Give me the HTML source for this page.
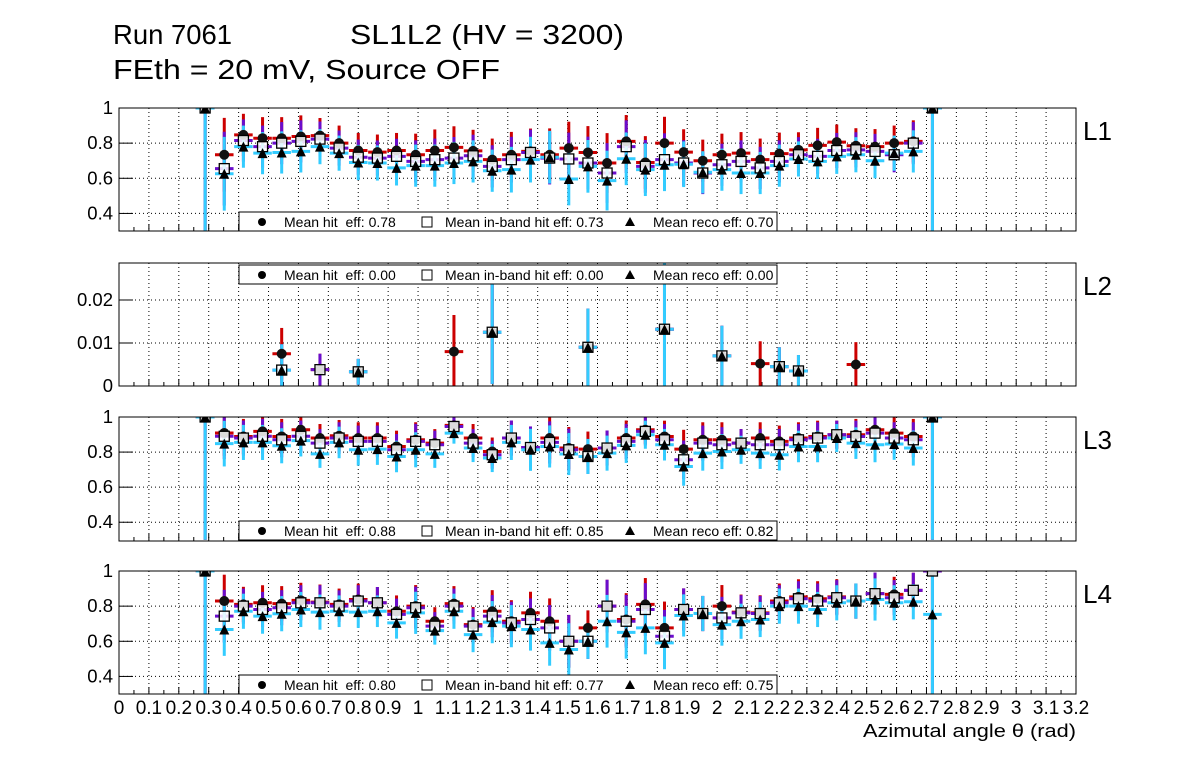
<!DOCTYPE html>
<html><head><meta charset="utf-8"><style>
body{margin:0;background:#fff;}
svg{display:block;font-family:"Liberation Sans",sans-serif;}
</style></head><body>
<svg id="c" width="1196" height="772">
<text x="113" y="44" font-size="28" textLength="119" lengthAdjust="spacingAndGlyphs">Run 7061</text>
<text x="350" y="44" font-size="28" textLength="274" lengthAdjust="spacingAndGlyphs">SL1L2 (HV = 3200)</text>
<text x="113" y="79" font-size="28" textLength="387" lengthAdjust="spacingAndGlyphs">FEth = 20 mV, Source OFF</text>
<text x="863" y="737" font-size="18" textLength="213" lengthAdjust="spacingAndGlyphs">Azimutal angle θ (rad)</text>
</svg>
<script>
const xs=[0.288,0.352,0.416,0.480,0.544,0.608,0.672,0.736,0.800,0.864,0.928,0.992,1.056,1.120,1.184,1.248,1.312,1.376,1.440,1.504,1.568,1.632,1.696,1.760,1.824,1.888,1.952,2.016,2.080,2.144,2.208,2.272,2.336,2.400,2.464,2.528,2.592,2.656,2.720];
const xTicks=[0,0.1,0.2,0.3,0.4,0.5,0.6,0.7,0.8,0.9,1,1.1,1.2,1.3,1.4,1.5,1.6,1.7,1.8,1.9,2,2.1,2.2,2.3,2.4,2.5,2.6,2.7,2.8,2.9,3,3.1,3.2];
const xTickLabels=["0","0.1","0.2","0.3","0.4","0.5","0.6","0.7","0.8","0.9","1","1.1","1.2","1.3","1.4","1.5","1.6","1.7","1.8","1.9","2","2.1","2.2","2.3","2.4","2.5","2.6","2.7","2.8","2.9","3","3.1","3.2"];
const layerNames=["L1","L2","L3","L4"];
const yTicksEff=[0.4,0.6,0.8,1];
const yTickLabelsEff=["0.4","0.6","0.8","1"];
const yTicksL2=[0,0.01,0.02];
const yTickLabelsL2=["0","0.01","0.02"];
const legendHit=["0.78","0.00","0.88","0.80"];
const legendIn=["0.73","0.00","0.85","0.77"];
const legendReco=["0.70","0.00","0.82","0.75"];
const hitL1=[1,0.734,0.847,0.828,0.828,0.838,0.843,0.80,0.758,0.749,0.758,0.734,0.758,0.776,0.756,0.706,0.734,0.753,0.734,0.772,0.747,0.687,0.81,0.69,0.80,0.749,0.70,0.734,0.743,0.706,0.74,0.762,0.787,0.806,0.785,0.78,0.80,0.81,1];
const inL1=[1,0.655,0.815,0.78,0.80,0.81,0.823,0.772,0.72,0.715,0.725,0.696,0.706,0.715,0.728,0.668,0.706,0.747,0.715,0.71,0.687,0.63,0.78,0.668,0.706,0.687,0.63,0.677,0.696,0.659,0.696,0.734,0.725,0.758,0.762,0.753,0.734,0.80,1];
const recoL1=[1,0.626,0.78,0.743,0.747,0.753,0.78,0.743,0.69,0.687,0.659,0.672,0.672,0.687,0.696,0.643,0.649,0.706,0.72,0.596,0.668,0.587,0.711,0.649,0.677,0.68,0.634,0.649,0.63,0.63,0.672,0.71,0.696,0.725,0.734,0.70,0.743,0.753,1];
const errL1=[0.7,0.21,0.12,0.12,0.12,0.12,0.1,0.1,0.1,0.1,0.1,0.12,0.12,0.12,0.12,0.12,0.13,0.13,0.15,0.15,0.15,0.17,0.15,0.15,0.15,0.13,0.12,0.12,0.12,0.12,0.12,0.1,0.1,0.1,0.1,0.1,0.1,0.12,0.7];
const hitL2=[null,null,null,null,0.0075,null,0.0038,null,0.0033,null,null,null,null,0.008,null,0.0125,null,null,null,null,0.009,null,null,null,0.0132,null,null,0.007,null,0.0052,0.0045,0.0035,null,null,0.005,null,null,null,null];
const inL2=[null,null,null,null,0.0037,null,0.0038,null,0.0033,null,null,null,null,null,null,0.0125,null,null,null,null,0.009,null,null,null,0.0132,null,null,0.007,null,null,0.0045,0.0035,null,null,null,null,null,null,null];
const recoL2=[null,null,null,null,0.0037,null,null,null,0.0033,null,null,null,null,null,null,0.0125,null,null,null,null,0.009,null,null,null,0.0132,null,null,0.007,null,null,0.0045,0.0035,null,null,null,null,null,null,null];
const errL2=[0,0,0,0,0.006,0,0.0037,0,0.003,0,0,0,0,0.0085,0,0.012,0,0,0,0,0.009,0,0,0,0.02,0,0,0.007,0,0.0052,0.0045,0.0037,0,0,0.0052,0,0,0,0];
const hitL3=[1,0.909,0.889,0.918,0.889,0.927,0.88,0.893,0.88,0.88,0.832,0.87,0.851,0.952,0.88,0.803,0.88,0.826,0.88,0.823,0.817,0.823,0.88,0.927,0.889,0.817,0.87,0.87,0.851,0.88,0.861,0.88,0.889,0.899,0.899,0.927,0.908,0.889,1];
const inL3=[1,0.89,0.88,0.89,0.87,0.89,0.851,0.88,0.861,0.861,0.813,0.861,0.842,0.946,0.851,0.785,0.88,0.826,0.855,0.813,0.775,0.823,0.861,0.918,0.87,0.756,0.851,0.842,0.851,0.842,0.842,0.87,0.88,0.899,0.889,0.908,0.88,0.87,1];
const recoL3=[1,0.848,0.855,0.855,0.836,0.865,0.79,0.855,0.813,0.817,0.775,0.813,0.79,0.908,0.823,0.766,0.855,0.813,0.832,0.789,0.775,0.794,0.838,0.899,0.842,0.718,0.794,0.803,0.813,0.794,0.785,0.832,0.832,0.88,0.851,0.842,0.846,0.823,1];
const errL3=[0.7,0.13,0.1,0.1,0.1,0.09,0.08,0.09,0.09,0.09,0.09,0.1,0.08,0.06,0.08,0.08,0.1,0.12,0.12,0.12,0.1,0.1,0.1,0.08,0.09,0.11,0.1,0.1,0.08,0.09,0.09,0.09,0.09,0.08,0.09,0.1,0.09,0.1,0.7];
const hitL4=[1,0.829,0.81,0.819,0.814,0.833,0.823,0.81,0.838,0.819,0.771,0.80,0.714,0.814,0.695,0.771,0.714,0.762,0.714,0.60,0.676,0.80,0.724,0.81,0.676,0.781,0.758,0.80,0.766,0.762,0.829,0.853,0.842,0.853,0.829,0.871,0.867,0.89,1];
const inL4=[1,0.743,0.80,0.781,0.791,0.819,0.819,0.80,0.829,0.819,0.753,0.791,0.686,0.80,0.686,0.743,0.705,0.724,0.676,0.60,0.60,0.80,0.714,0.781,0.629,0.781,0.758,0.733,0.762,0.758,0.819,0.842,0.829,0.848,0.829,0.871,0.848,0.89,1];
const recoL4=[1,0.667,0.771,0.743,0.757,0.781,0.766,0.771,0.766,0.771,0.705,0.762,0.661,0.771,0.638,0.709,0.686,0.667,0.591,0.553,0.60,0.714,0.651,0.676,0.591,0.747,0.758,0.695,0.714,0.724,0.80,0.80,0.781,0.819,0.829,0.838,0.819,0.825,0.753];
const errL4=[0.7,0.15,0.1,0.1,0.1,0.1,0.1,0.09,0.09,0.09,0.09,0.12,0.08,0.1,0.1,0.12,0.12,0.12,0.13,0.15,0.1,0.15,0.15,0.15,0.15,0.12,0.1,0.12,0.1,0.1,0.1,0.1,0.1,0.1,0.1,0.12,0.1,0.1,0.7];

const NS="http://www.w3.org/2000/svg";
const svg=document.getElementById('c');
const X0=119,X1=1076,XMIN=0,XMAX=3.2;
function xPix(v){return X0+(v-XMIN)/(XMAX-XMIN)*(X1-X0);}
function mk(tag,attrs,parent){const e=document.createElementNS(NS,tag);for(const k in attrs)e.setAttribute(k,attrs[k]);(parent||svg).appendChild(e);return e;}

const panels=[
 {top:108,bot:231,ymin:0.3,ymax:1,hit:hitL1,inb:inL1,reco:recoL1,err:errL1,yt:yTicksEff,yl:yTickLabelsEff,legY:212},
 {top:263,bot:386,ymin:0,ymax:0.0286,hit:hitL2,inb:inL2,reco:recoL2,err:errL2,yt:yTicksL2,yl:yTickLabelsL2,legY:265},
 {top:417,bot:541,ymin:0.293,ymax:1,hit:hitL3,inb:inL3,reco:recoL3,err:errL3,yt:yTicksEff,yl:yTickLabelsEff,legY:521},
 {top:571,bot:694,ymin:0.3,ymax:1,hit:hitL4,inb:inL4,reco:recoL4,err:errL4,yt:yTicksEff,yl:yTickLabelsEff,legY:675}
];
const halfW=0.031;
panels.forEach((p,pi)=>{
  const g=mk('g',{});
  
  
  const clipId='clip'+pi;
  const cp=mk('clipPath',{id:clipId},g);
  mk('rect',{x:X0,y:p.top,width:X1-X0,height:p.bot-p.top},cp);
  function yPix(v){return p.bot-(v-p.ymin)/(p.ymax-p.ymin)*(p.bot-p.top);}
  xTicks.forEach((t,i)=>{
    if(t>XMIN&&t<XMAX){
      const l=mk('line',{x1:xPix(t),x2:xPix(t),y1:p.top,y2:p.bot,stroke:'#000','stroke-width':1,'stroke-dasharray':'1,3'},g);
      
      
    }
    const tk=mk('line',{x1:xPix(t),x2:xPix(t),y1:p.bot,y2:p.bot-7,stroke:'#000','stroke-width':1},g);
    
    
    if(t<XMAX){
      const tk2=mk('line',{x1:xPix(t+0.05),x2:xPix(t+0.05),y1:p.bot,y2:p.bot-4,stroke:'#000','stroke-width':1},g);
      
      
    }
  });
  p.yt.forEach((t,i)=>{
    const y=yPix(t);
    if(y>p.top+1){
      const l=mk('line',{x1:X0,x2:X1,y1:y,y2:y,stroke:'#000','stroke-width':1,'stroke-dasharray':'1,3'},g);
      
      
    }
    const tk=mk('line',{x1:X0,x2:X0+14,y1:y,y2:y,stroke:'#000','stroke-width':1},g);
    
    
    const tx=mk('text',{x:113,y:y+6,'font-size':18.5,'text-anchor':'end'},g);
    tx.textContent=p.yl[i];
    
    
  });
  const data=mk('g',{'clip-path':'url(#'+clipId+')'},g);
  const series=[[p.hit,'#cc0000'],[p.inb,'#6a0dcc'],[p.reco,'#33ccff']];
  series.forEach(([vals,col],si)=>{
    vals.forEach((v,i)=>{
      if(v===null)return;
      const x=xPix(xs[i]),y=yPix(v);
      const e=p.err[i];
      const vb=mk('line',{x1:x,x2:x,y1:yPix(v+e),y2:yPix(v-e),stroke:col,'stroke-width':3},data);
      
      
      const hb=mk('line',{x1:xPix(xs[i]-halfW),x2:xPix(xs[i]+halfW),y1:y,y2:y,stroke:col,'stroke-width':3},data);
      
      
    });
  });
  series.forEach(([vals],si)=>{
    vals.forEach((v,i)=>{
      if(v===null)return;
      const x=xPix(xs[i]),y=yPix(v);
      let m;
      if(si===0){m=mk('circle',{cx:x,cy:y,r:5,fill:'#111'},data);}
      else if(si===1){m=mk('rect',{x:x-5,y:y-5,width:10,height:10,fill:'#fff','fill-opacity':0.85,stroke:'#000','stroke-width':1.3},data);}
      else{m=mk('polygon',{points:(x-5)+','+(y+5)+' '+(x+5)+','+(y+5)+' '+x+','+(y-5),fill:'#000'},data);}
      
    });
  });
  const fr=mk('rect',{x:X0,y:p.top,width:X1-X0,height:p.bot-p.top,fill:'none',stroke:'#000','stroke-width':1},g);
  
  
  const lg=mk('g',{},g);
  
  
  mk('rect',{x:239,y:p.legY,width:538,height:19,fill:'#fff',stroke:'#000','stroke-width':1},lg);
  const ly=p.legY+10;
  mk('circle',{cx:262,cy:ly,r:4,fill:'#000'},lg);
  const t1=mk('text',{x:284,y:ly+5,'font-size':14},lg);t1.textContent='Mean hit  eff: '+legendHit[pi];
  
  t1.setAttribute('style','white-space:pre');
  mk('rect',{x:422,y:ly-5,width:10,height:10,fill:'#fff',stroke:'#000'},lg);
  const t2=mk('text',{x:445,y:ly+5,'font-size':14},lg);t2.textContent='Mean in-band hit eff: '+legendIn[pi];
  
  mk('polygon',{points:'625,'+(ly+4)+' 635,'+(ly+4)+' 630,'+(ly-5),fill:'#000'},lg);
  const t3=mk('text',{x:653,y:ly+5,'font-size':14},lg);t3.textContent='Mean reco eff: '+legendReco[pi];
  
  const ln=mk('text',{x:1083,y:p.top+32,'font-size':26},g);
  ln.textContent=layerNames[pi];
  
  
});
xTicks.forEach((t,i)=>{
  const tx=mk('text',{x:xPix(t),y:714,'font-size':19,'text-anchor':'middle'});
  tx.textContent=xTickLabels[i];
  
  
});
</script>
</body></html>
